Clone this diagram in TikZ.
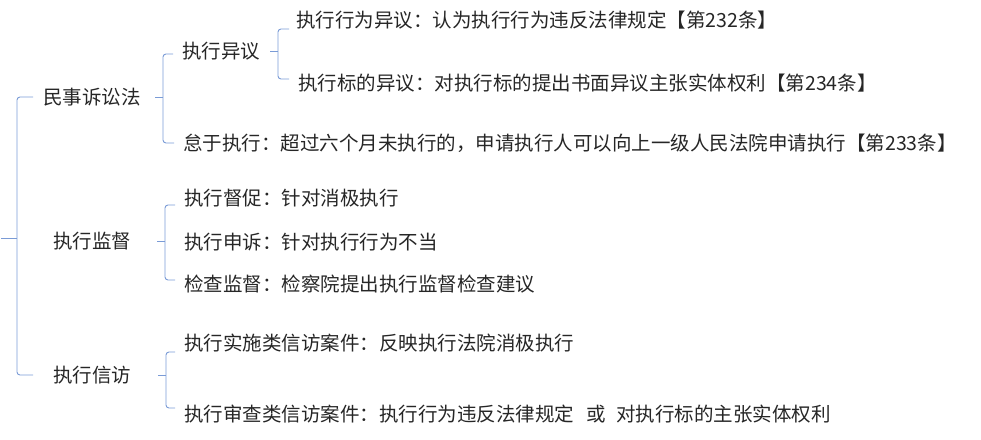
\documentclass[tikz,border=0pt]{standalone}
\usepackage{fontspec}
\setmainfont{Noto Sans CJK SC}
\usetikzlibrary{calc}
\definecolor{brkblue}{HTML}{7A9BD6}
\definecolor{txtgray}{HTML}{262626}
\tikzset{
  brk/.style={draw=brkblue, line width=0.9pt, rounded corners=3pt},
  lbl/.style={inner sep=0pt, text=txtgray, font=\fontsize{19.5}{22}\selectfont},
  leaf/.style={lbl, anchor=west}
}
\begin{document}
\begin{tikzpicture}[x=1pt,y=-1pt]
\useasboundingbox (0,0) rectangle (981,439);
\node[lbl] (ms) at (92,97) {民事诉讼法}; \node[lbl] (jd) at (92,241) {执行监督}; \node[lbl] (xf) at (92,375) {执行信访};
\node[leaf] (yy) at (182,51) {执行异议};
\node[leaf] (xw) at (296,20) {执行行为异议：认为执行行为违反法律规定【第232条】};
\node[leaf] (bd) at (298,83) {执行标的异议：对执行标的提出书面异议主张实体权利【第234条】};
\node[leaf] (dy) at (183,143) {怠于执行：超过六个月未执行的，申请执行人可以向上一级人民法院申请执行【第233条】};
\node[leaf] (dc) at (184,198) {执行督促：针对消极执行}; \node[leaf] (ss) at (184,242) {执行申诉：针对执行行为不当}; \node[leaf] (jc) at (184,284) {检查监督：检察院提出执行监督检查建议};
\node[leaf] (sh) at (184,343) {执行实施类信访案件：反映执行法院消极执行};
\node[leaf] (sc) at (184,414) {执行审查类信访案件：执行行为违反法律规定\hspace{0.65em}或\hspace{0.5em}对执行标的主张实体权利};
% root
\coordinate (r) at (17,238);
\draw[brk] ($(r |- ms)+(16,0)$) -- (r |- ms) -- (r |- xf) -- ++(16,0); \draw[brk] (r) -- ++(-16,0);
% 民事诉讼法
\draw[brk] ([xshift=-9pt,yshift=-3pt]yy.west) -- ++(-10,0) |- ([xshift=-9pt]dy.west); \draw[brk] ([xshift=-19pt]yy.west |- ms) -- ++(-8,0);
% 执行异议
\draw[brk] ([xshift=-7pt,yshift=-9pt]xw.west) -- ++(-11,0) |- ([xshift=-9pt,yshift=4pt]bd.west); \draw[brk] ([xshift=-18pt]xw.west |- yy) -- ++(-8,0);
% 执行监督
\draw[brk] ([xshift=-9pt,yshift=-7pt]dc.west) -- ++(-10,0) |- ([xshift=-9pt,yshift=4pt]jc.west); \draw[brk] ([xshift=-19pt]dc.west |- jd) -- ++(-8,0);
% 执行信访
\draw[brk] ([xshift=-9pt,yshift=-9pt]sh.west) -- ++(-9,0) |- ([xshift=-9pt,yshift=6pt]sc.west); \draw[brk] ([xshift=-18pt]sh.west |- xf) -- ++(-8,0);
\end{tikzpicture}
\end{document}
